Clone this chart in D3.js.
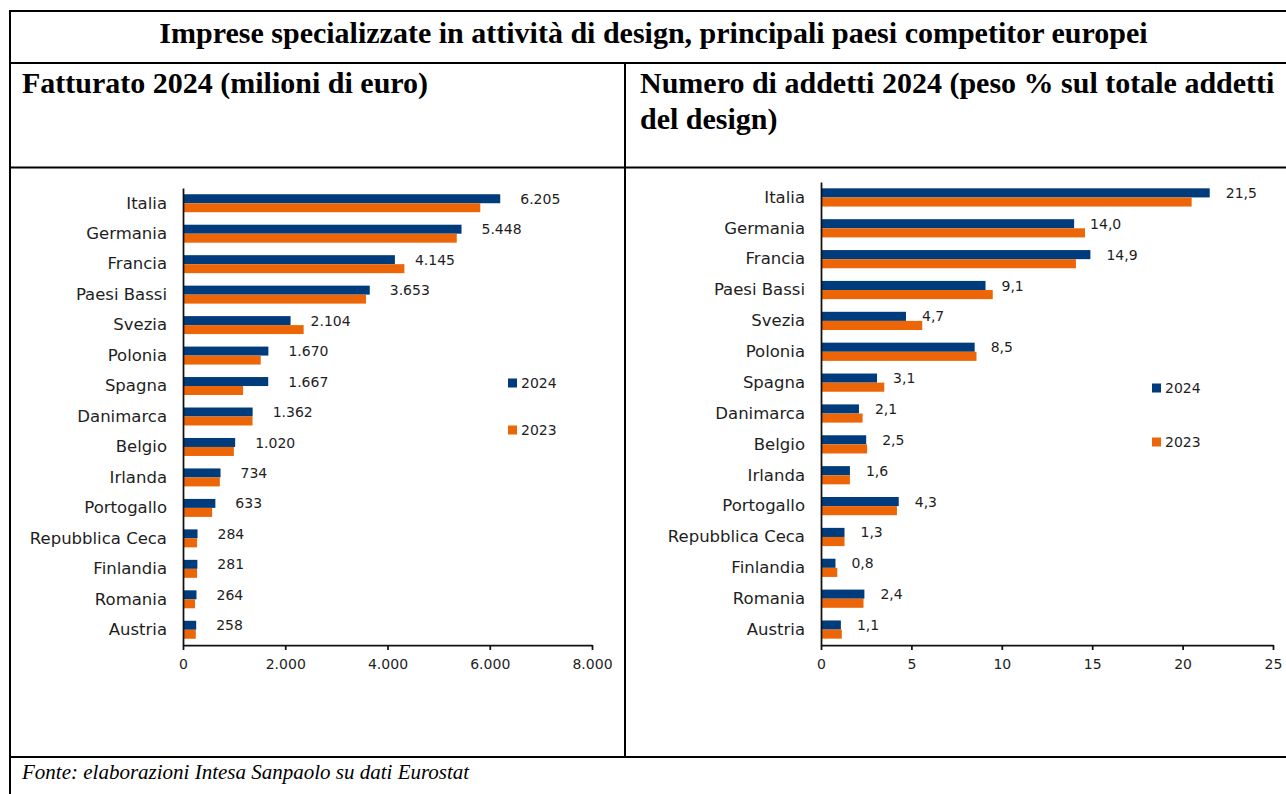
<!DOCTYPE html>
<html><head><meta charset="utf-8">
<script src="https://cdn.jsdelivr.net/npm/d3@7"></script>
<style>body{margin:0;background:#fff} svg{display:block}</style>
</head><body>
<svg id="c" width="1286" height="794"></svg>
<script>
// ---- DATA ----
const countries = ["Italia","Germania","Francia","Paesi Bassi","Svezia","Polonia","Spagna","Danimarca","Belgio","Irlanda","Portogallo","Repubblica Ceca","Finlandia","Romania","Austria"];
const seriesNames = ["2024","2023"];
const fatturato2024 = [6205,5448,4145,3653,2104,1670,1667,1362,1020,734,633,284,281,264,258];
const fatturato2023 = [5815,5355,4330,3580,2360,1520,1175,1360,995,720,570,275,275,235,250];
const addetti2024 = [21.5,14.0,14.9,9.1,4.7,8.5,3.1,2.1,2.5,1.6,4.3,1.3,0.8,2.4,1.1];
const addetti2023 = [20.5,14.6,14.1,9.5,5.6,8.6,3.5,2.3,2.55,1.6,4.2,1.3,0.9,2.35,1.15];
const fatturatoTicks = [0,2000,4000,6000,8000];
const addettiTicks = [0,5,10,15,20,25];
const titleText = "Imprese specializzate in attività di design, principali paesi competitor europei";
const leftHeader = ["Fatturato 2024 (milioni di euro)"];
const rightHeader = ["Numero di addetti 2024 (peso % sul totale addetti","del design)"];
const sourceText = "Fonte: elaborazioni Intesa Sanpaolo su dati Eurostat";

// ---- STYLE ----
const C24 = "#003b7c", C23 = "#ec6608", TXT = "#1e1e1e";
const SANS = "'DejaVu Sans', sans-serif", SERIF = "'Liberation Serif','Times New Roman',serif";
const it = d3.formatLocale({decimal:",", thousands:".", grouping:[3], currency:["€",""]});

const svg = d3.select("#c");

// frame
const frame = svg.append("g").attr("stroke","#000").attr("stroke-width",2).attr("fill","none");
frame.append("rect").attr("x",10).attr("y",11).attr("width",1320).attr("height",820);
frame.append("line").attr("x1",10).attr("x2",1330).attr("y1",63).attr("y2",63);
frame.append("line").attr("x1",10).attr("x2",1330).attr("y1",167.5).attr("y2",167.5);
frame.append("line").attr("x1",10).attr("x2",1330).attr("y1",757).attr("y2",757);
frame.append("line").attr("x1",625).attr("x2",625).attr("y1",63).attr("y2",757);

svg.append("text").attr("x",653.5).attr("y",43).attr("text-anchor","middle")
  .attr("font-family",SERIF).attr("font-weight","bold").attr("font-size",30).attr("fill","#000").text(titleText);
function header(x, lines){
  const t = svg.append("text").attr("font-family",SERIF).attr("font-weight","bold").attr("font-size",30).attr("fill","#000");
  lines.forEach((l,i)=>t.append("tspan").attr("x",x).attr("y",93+i*36).text(l));
}
header(22, leftHeader);
header(640, rightHeader);
svg.append("text").attr("x",22).attr("y",779).attr("font-family",SERIF).attr("font-style","italic")
  .attr("font-size",21).attr("fill","#000").text(sourceText);

function panel(o){
  const g = svg.append("g");
  const x = d3.scaleLinear().domain([o.ticks[0], o.ticks[o.ticks.length-1]]).range([o.x0, o.x1]);
  const y = d3.scaleBand().domain(countries).range([o.yTop, o.yBot]).paddingInner(0.41).paddingOuter(0.205);
  const ys = d3.scaleBand().domain(seriesNames).range([0, y.bandwidth()]);
  const vals = [o.v24, o.v23], cols = [C24, C23];
  seriesNames.forEach((s,si)=>{
    g.append("g").selectAll("rect").data(countries).join("rect")
      .attr("x", x(0)).attr("y", d=>y(d)+ys(s))
      .attr("width", (d,i)=>x(vals[si][i])-x(0)).attr("height", ys.bandwidth())
      .attr("fill", cols[si]);
  });
  // data labels (2024)
  g.append("g").selectAll("text").data(countries).join("text")
    .attr("x",(d,i)=>x(o.v24[i])+o.labelOff).attr("y",d=>y(d)+ys("2024")+ys.bandwidth()/2)
    .attr("dy","0.36em").attr("font-family",SANS).attr("font-size",14).attr("fill",TXT)
    .text((d,i)=>o.fmt(o.v24[i]));
  // axes
  const ax = g.append("g").attr("transform",`translate(0,${o.yBot})`)
    .call(d3.axisBottom(x).tickValues(o.ticks).tickFormat(o.tickFmt).tickSize(5).tickSizeOuter(0).tickPadding(9));
  ax.selectAll("path,line").attr("stroke","#111").attr("stroke-width",1.75);
  ax.selectAll("text").attr("font-family",SANS).attr("font-size",14).attr("fill",TXT);
  const ay = g.append("g").attr("transform",`translate(${o.x0},0)`)
    .call(d3.axisLeft(y).tickSize(0).tickSizeOuter(0).tickPadding(16));
  ay.select("path").attr("stroke","#111").attr("stroke-width",1.75);
  ay.selectAll("text").attr("font-family",SANS).attr("font-size",16.5).attr("fill",TXT);
  // legend
  seriesNames.forEach((s,si)=>{
    const cy = o.legY[si];
    g.append("rect").attr("x",o.legX).attr("y",cy-4.5).attr("width",9).attr("height",9).attr("fill",cols[si]);
    g.append("text").attr("x",o.legX+13).attr("y",cy).attr("dy","0.36em")
      .attr("font-family",SANS).attr("font-size",14).attr("fill",TXT).text(s);
  });
}

panel({x0:183, x1:592, yTop:188, yBot:645, ticks:fatturatoTicks, v24:fatturato2024, v23:fatturato2023,
  fmt:it.format(",.0f"), tickFmt:it.format(",.0f"), labelOff:20, legX:508, legY:[383,430]});
panel({x0:821, x1:1273, yTop:182, yBot:645, ticks:addettiTicks, v24:addetti2024, v23:addetti2023,
  fmt:it.format(".1f"), tickFmt:it.format("d"), labelOff:16, legX:1152, legY:[388,442]});
</script>
</body></html>
